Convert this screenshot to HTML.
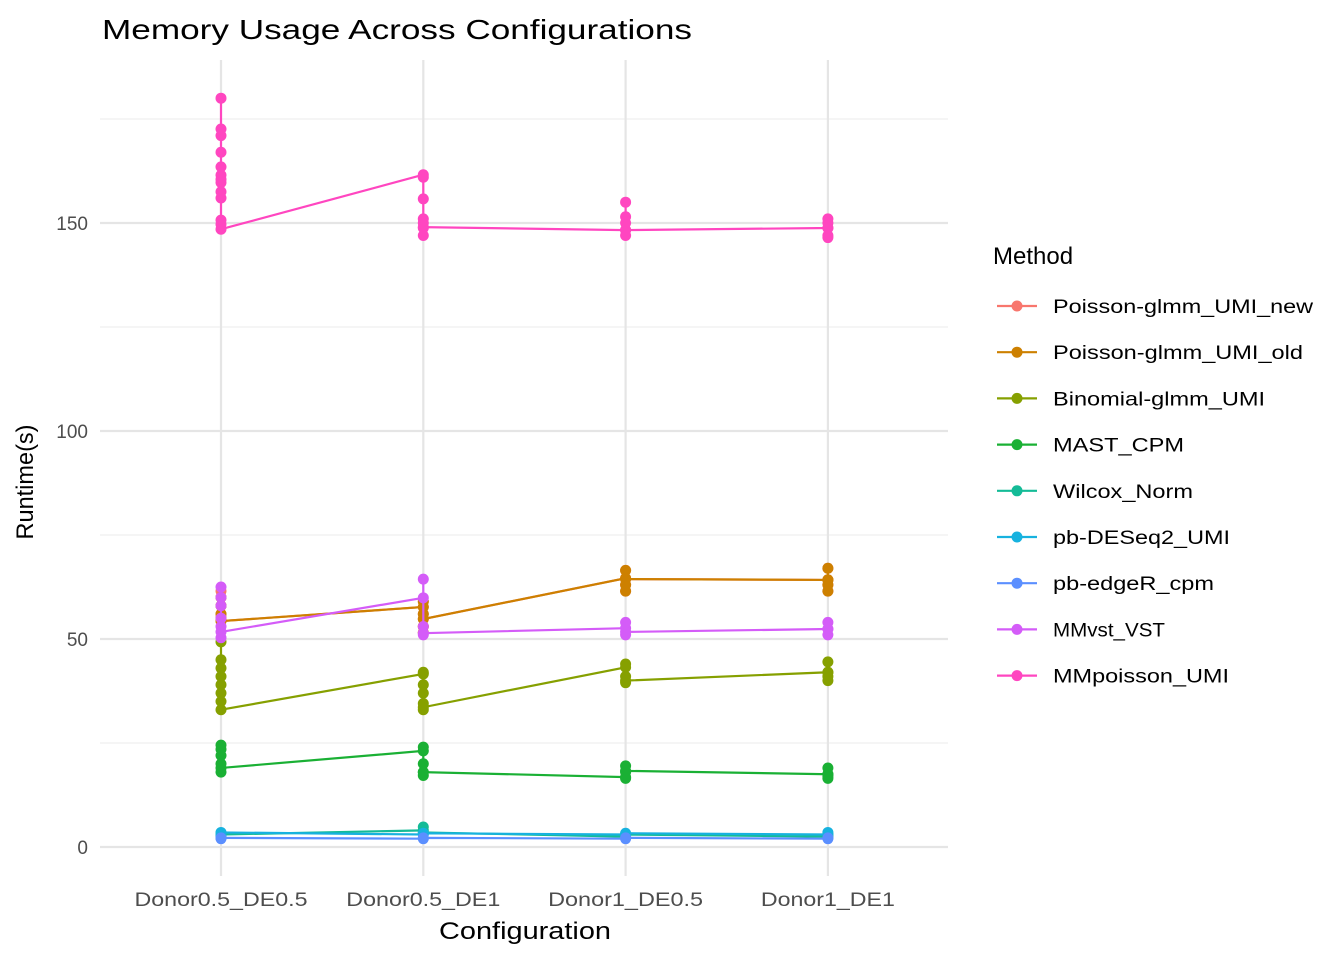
<!DOCTYPE html>
<html><head><meta charset="utf-8"><style>
body{margin:0;background:#fff;}
svg text{font-family:"Liberation Sans",Arial,sans-serif;}
</style></head><body>
<svg id="chart" width="1344" height="960" xmlns="http://www.w3.org/2000/svg">
<text x="102" y="39" font-size="28" textLength="590" lengthAdjust="spacingAndGlyphs" fill="#000">Memory Usage Across Configurations</text>
<g id="grid"></g>
<g id="series"></g>
<g id="axes"></g>
<g id="legend"></g>
<text x="525" y="939" font-size="24" textLength="172" lengthAdjust="spacingAndGlyphs" text-anchor="middle" fill="#000">Configuration</text>
<text transform="translate(33,482) rotate(-90)" font-size="24" textLength="115" lengthAdjust="spacingAndGlyphs" text-anchor="middle" fill="#000">Runtime(s)</text>
</svg>
<script>
const categories=["Donor0.5_DE0.5","Donor0.5_DE1","Donor1_DE0.5","Donor1_DE1"];
const methods=["Poisson-glmm_UMI_new","Poisson-glmm_UMI_old","Binomial-glmm_UMI","MAST_CPM","Wilcox_Norm","pb-DESeq2_UMI","pb-edgeR_cpm","MMvst_VST","MMpoisson_UMI"];
const colors=["#F8766D","#CD8000","#86A000","#1AB034","#14BB97","#17B2DF","#5B8FFF","#D45CF8","#FF46C0"];
const yTicks=[0,50,100,150];
const catWidths=[173,154,155,134];
const legWidths=[260,250,212,131,140,177,161,112,176];
// values per method, per configuration (order: first = entering point, last = exiting point)
const s_new=[[61.5,60,58,56,55,54.3],[57.7,59,56,53,51.5,54.8],[64.6,66.5,63,61.5,64.4],[64.2,67,63,61.5,64.2]];
const s_old=[[60,58,56,55,54.3],[57.7,59,56,53,51.5,54.8],[64.6,66.5,63,61.5,64.4],[64.2,67,63,61.5,64.2]];
const s_binom=[[49.3,45,43,41,39,37,35,33],[41.6,42,39,37,34.5,33,33.6],[43.2,44,41,39.5,40],[42,44.5,41,40,42]];
const s_mast=[[23.5,24.5,22,20,18,19],[23.1,24,20,18,17.2,18],[16.8,19.5,18,16.5,18.3],[17.5,19,17,16.5,17.5]];
const s_wilcox=[[2.5,3],[4,4.8,3.5],[2.5,3],[2.5,3]];
const s_deseq=[[3,3.5],[3,3.3],[3,3.3],[3,3.5]];
const s_edger=[[2,2.2],[2,2.2],[2,2.2],[2,2.2]];
const s_vst=[[62.5,60,58,55,53,50.3,51.7],[59.9,64.4,53,51,51.4],[52.6,54,51,51.7],[52.4,54,51,52.4]];
const s_mmpois=[[180,172.6,171,167,163.5,161.5,160.5,159.7,157.5,156,150.7,149.7,148.5],[161.6,161,155.8,151,150,148.8,147,149],[148.3,155,151.5,150,147,148.3],[148.8,151,150,147,146.5,148.8]];
const seriesList=[s_new,s_old,s_binom,s_mast,s_wilcox,s_deseq,s_edger,s_vst,s_mmpois];

const NS="http://www.w3.org/2000/svg";
const xL=100,xR=948,yTop=60,yBot=876;
function xPos(i){return 221+i*202.3;}
function yPos(v){return 847-v*4.16;}
function mk(tag,attrs,parent){const e=document.createElementNS(NS,tag);for(const k in attrs)e.setAttribute(k,attrs[k]);parent.appendChild(e);return e;}
const grid=document.getElementById('grid'),ser=document.getElementById('series'),axes=document.getElementById('axes'),leg=document.getElementById('legend');
[25,75,125,175].forEach(v=>{const l=mk('line',{x1:xL,x2:xR,y1:yPos(v),y2:yPos(v),stroke:'#ebebeb','stroke-width':1.1},grid);

});
yTicks.forEach(v=>{const l=mk('line',{x1:xL,x2:xR,y1:yPos(v),y2:yPos(v),stroke:'#e5e5e5','stroke-width':2.2},grid);


const t=mk('text',{x:88,y:yPos(v)+7,'font-size':19,'text-anchor':'end',fill:'#4d4d4d'},axes);t.textContent=v;

});
categories.forEach((c,i)=>{const l=mk('line',{x1:xPos(i),x2:xPos(i),y1:yTop,y2:yBot,stroke:'#e5e5e5','stroke-width':2.2},grid);


const t=mk('text',{x:xPos(i),y:906,'font-size':19,'text-anchor':'middle',fill:'#4d4d4d',textLength:catWidths[i],lengthAdjust:'spacingAndGlyphs'},axes);t.textContent=c;

});
seriesList.forEach((s,m)=>{const g=mk('g',{},ser);


let pts=[];s.forEach((vals,i)=>vals.forEach(v=>pts.push([xPos(i),yPos(v)])));
const p=mk('polyline',{points:pts.map(p=>p.join(',')).join(' '),fill:'none',stroke:colors[m],'stroke-width':2.2},g);


pts.forEach(q=>{const c=mk('circle',{cx:q[0],cy:q[1],r:5.5,fill:colors[m]},g);

});});
const lt=mk('text',{x:993,y:264,'font-size':24,fill:'#000'},leg);lt.textContent='Method';


methods.forEach((m,i)=>{const y=306+i*46.2;const g=mk('g',{},leg);


mk('line',{x1:997,x2:1037,y1:y,y2:y,stroke:colors[i],'stroke-width':2.2},g);
mk('circle',{cx:1017,cy:y,r:5.5,fill:colors[i]},g);
const t=mk('text',{x:1053,y:y+7,'font-size':19.5,fill:'#000',textLength:legWidths[i],lengthAdjust:'spacingAndGlyphs'},g);t.textContent=m;});
</script>
</body></html>
